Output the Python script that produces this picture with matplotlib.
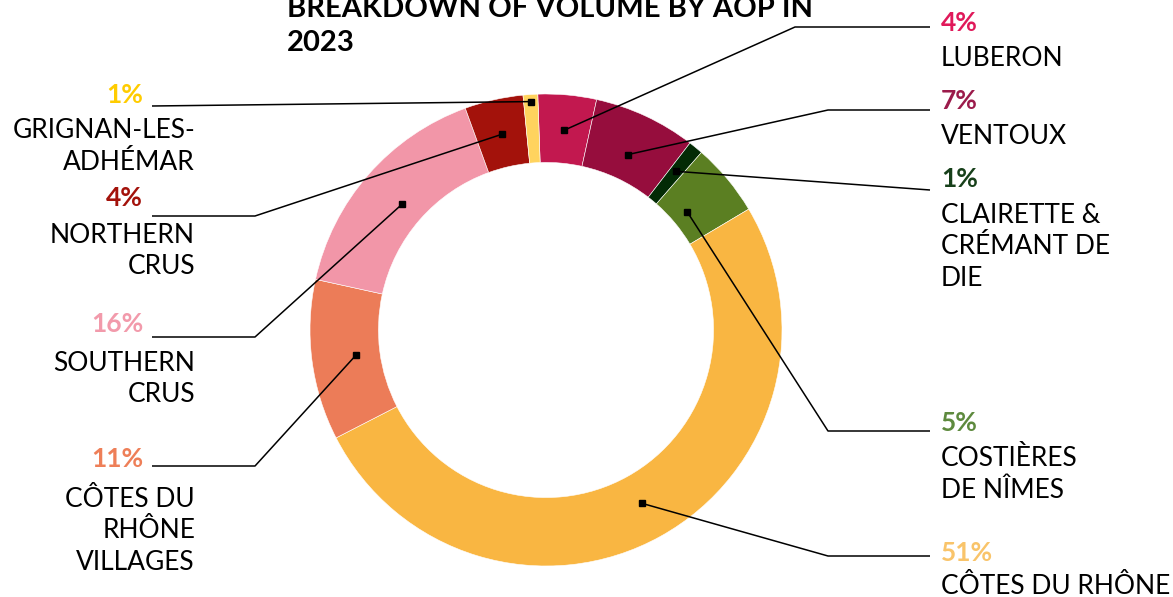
import matplotlib.pyplot as plt
import numpy as np

plt.rcParams['font.family'] = ['Lato', 'DejaVu Sans']

# AOP volume shares, clockwise from the top
appellations = [
    "LUBERON",
    "VENTOUX",
    "CLAIRETTE &\nCRÉMANT DE\nDIE",
    "COSTIÈRES\nDE NÎMES",
    "CÔTES DU RHÔNE",
    "CÔTES DU\nRHÔNE\nVILLAGES",
    "SOUTHERN\nCRUS",
    "NORTHERN\nCRUS",
    "GRIGNAN-LES-\nADHÉMAR",
]
shares = [4, 7, 1, 5, 51, 11, 16, 4, 1]

slice_colors = ["#C2184F", "#960D3D", "#032B05", "#5B7F22", "#F9B642",
                "#EC7C58", "#F296A8", "#A3120B", "#FFD35E"]
pct_colors = ["#E0195A", "#9B1B4B", "#17401A", "#5E8A3E", "#F9C46A",
              "#EE7F58", "#F29AAB", "#A3120B", "#FFCC00"]

# label layout in pixel units: side, leader end (x, y), elbow (or None),
# percent centre y, first name line centre y, anchor radius
layout = [
    ("R", (930, 27), (795, 27), 21, 55.5, 0.85),
    ("R", (930, 110), (828, 110), 99, 134, 0.82),
    ("R", (930, 190), None, 177, 213, 0.87),
    ("R", (930, 431), (828, 431), 421, 456, 0.78),
    ("R", (930, 556), (828, 556), 551, 584, 0.84),
    ("L", (152, 466), (255, 466), 457, 497, 0.81),
    ("L", (152, 337), (255, 337), 322, 361, 0.81),
    ("L", (152, 216), (255, 216), 196, 233, 0.85),
    ("L", (152, 106), None, 93, 128, 0.97),
]

W, H = 1173, 597
CX, CY, R = 546, 330, 236


def px(x, y):
    return (x - CX) / R, (CY - y) / R


fig = plt.figure(figsize=(W / 100, H / 100), dpi=100)
ax = fig.add_axes([0, 0, 1, 1])

wedges, _ = ax.pie(shares, colors=slice_colors, startangle=92, counterclock=False,
                   radius=1, wedgeprops=dict(width=0.29, edgecolor='white', linewidth=0.4))

fs = 19
line_gap = 31.5
for w, name, share, pc, (side, end, elbow, pct_y, name_y, rr) in zip(
        wedges, appellations, shares, pct_colors, layout):
    mid = np.deg2rad((w.theta1 + w.theta2) / 2)
    ax0, ay0 = rr * np.cos(mid), rr * np.sin(mid)
    pts = [(ax0, ay0)]
    if elbow is not None:
        pts.append(px(*elbow))
    pts.append(px(*end))
    xs, ys = zip(*pts)
    ax.plot(xs, ys, color='black', lw=1.1, solid_capstyle='butt', zorder=3)
    ax.plot(ax0, ay0, marker='s', ms=5, color='black', zorder=4)

    if side == "R":
        tx_pct, tx_name, ha_pct, ha_name = 941, 941, 'left', 'left'
    else:
        tx_pct, tx_name, ha_pct, ha_name = 143, 195, 'right', 'right'
    ax.text(*px(tx_pct, pct_y + 10), f"{share}%", color=pc, fontsize=fs,
            fontweight='bold', ha=ha_pct, va='baseline')
    for i, line in enumerate(name.split("\n")):
        ax.text(*px(tx_name, name_y + 10 + i * line_gap), line, color='black',
                fontsize=fs, ha=ha_name, va='baseline')

ax.text(*px(287, 17), "BREAKDOWN OF VOLUME BY AOP IN", fontsize=21,
        fontweight='bold', ha='left', va='baseline')
ax.text(*px(287, 51), "2023", fontsize=21, fontweight='bold', ha='left', va='baseline')

ax.set_xlim(px(0, 0)[0], px(W, 0)[0])
ax.set_ylim(px(0, H)[1], px(0, 0)[1])
ax.set_aspect('auto')
ax.axis('off')

fig.savefig("out.png", dpi=100)
